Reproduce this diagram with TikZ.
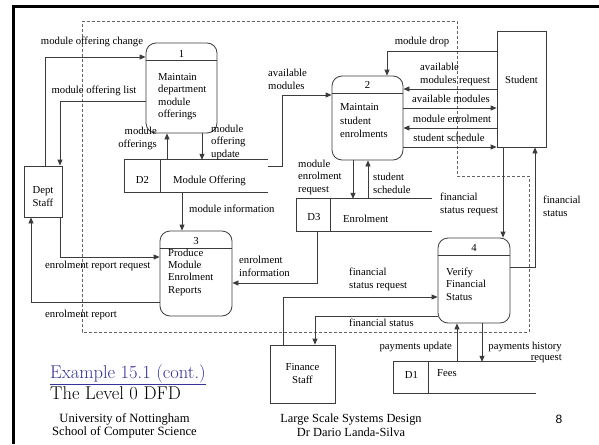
\documentclass[tikz,border=0pt]{standalone}
\usepackage{fontspec}
\setmainfont{Liberation Serif}
\newfontfamily\lmfont{Latin Modern Roman}
\newfontfamily\sansfont{Liberation Sans}
\usetikzlibrary{arrows.meta}
\definecolor{ln}{HTML}{3C3C3C}
\definecolor{ttl}{HTML}{333399}
\begin{document}
\begin{tikzpicture}[x=1pt,y=-1pt,
  lbl/.style={font=\fontsize{10.7}{12.5}\selectfont, inner sep=0pt, text=black},
  lblL/.style={lbl, align=left, anchor=base west},
  lblR/.style={lbl, align=right, anchor=base east},
  lblC/.style={lbl, align=center, anchor=base},
  proc/.style={draw=ln, line width=0.8pt, rounded corners=10pt, inner sep=0pt},
  ext/.style={draw=ln, line width=0.8pt, inner sep=0pt},
  store/.style={draw=none, inner sep=0pt},
  edge/.style={draw=ln, line width=0.8pt},
  flow/.style={draw=ln, line width=0.8pt, -{Triangle[length=6pt,width=5pt]}},
  bound/.style={draw=ln!80, line width=0.8pt, dash pattern=on 3pt off 2pt}]
\useasboundingbox (0,0) rectangle (599,444);
\fill[white] (0,0) rectangle (599,444);
% frame
\draw[line width=3pt, black] (13.5,444) -- (13.5,6.5) -- (599,6.5);
% system boundary
\draw[bound] (82,21) -- (457,21) -- (457,176) -- (529,176) -- (529,332) -- (82,332) -- cycle;

% processes
\node[proc, minimum width=71pt, minimum height=90pt] (p1) at (181.5,88) {};
\node[proc, minimum width=71pt, minimum height=84pt] (p2) at (367.5,118) {};
\node[proc, minimum width=72pt, minimum height=85pt] (p3) at (196,273.5) {};
\node[proc, minimum width=72pt, minimum height=85pt] (p4) at (474,280.5) {};
\foreach \p in {p1,p2,p3,p4}
  \draw[edge] ([yshift=-18pt]\p.north west) -- ([yshift=-18pt]\p.north east);
\node[lblC] (n1) at (181.5,57) {1};
\node[lblL] (t1) at (158,117.5) {Maintain\\department\\module\\offerings};
\node[lblC] (n2) at (367.5,88) {2};
\node[lblL, font=\fontsize{10.7}{13.3}\selectfont] (t2) at (340,137.5) {Maintain\\student\\enrolments};
\node[lblC] (n3) at (196,244) {3};
\node[lblL, font=\fontsize{10.7}{12.3}\selectfont] (t3) at (168,293) {Produce\\Module\\Enrolment\\Reports};
\node[lblC] (n4) at (474,251) {4};
\node[lblL] (t4) at (446,300) {Verify\\Financial\\Status};

% external entities
\node[ext, minimum width=38pt, minimum height=51pt] (dept) at (43,191.5) {};
\node[lblC] (tdept) at (43,206) {Dept\\Staff};
\node[ext, minimum width=49pt, minimum height=116pt] (student) at (521.5,89) {};
\node[lblC] (tstudent) at (521.5,83) {Student};
\node[ext, minimum width=65pt, minimum height=58pt] (fin) at (302.5,374) {};
\node[lblC] (tfin) at (302.5,383) {Finance\\Staff};

% data stores
\node[store, minimum width=143pt, minimum height=32pt] (d2) at (196.5,176) {};
\draw[edge] (d2.north east) -- (d2.north west) -- (d2.south west) -- (d2.south east);
\draw[edge] ([xshift=36pt]d2.north west) -- ([xshift=36pt]d2.south west);
\node[lblC] (td2a) at (142.5,183) {D2};
\node[lblL] (td2b) at (173,183) {Module Offering};

\node[store, minimum width=135pt, minimum height=32pt] (d3) at (364.5,215) {};
\draw[edge] (d3.north east) -- (d3.north west) -- (d3.south west) -- (d3.south east);
\draw[edge] ([xshift=34pt]d3.north west) -- ([xshift=34pt]d3.south west);
\node[lblC] (td3a) at (314,220) {D3};
\node[lblL] (td3b) at (343,222) {Enrolment};

\node[store, minimum width=142pt, minimum height=31pt] (d1) at (465,377.5) {};
\draw[edge] (d1.north east) -- (d1.north west) -- (d1.south west) -- (d1.south east);
\draw[edge] ([xshift=35pt]d1.north west) -- ([xshift=35pt]d1.south west);
\node[lblC] (td1a) at (411.5,378) {D1};
\node[lblL] (td1b) at (437,376) {Fees};

% flows
\draw[flow] (45,0 |- dept.north) |- (p1.west |- 0,57);
\node[lblC] (l1) at (92,45) {module offering change};
\draw[flow] (p1.west |- 0,101) -| (60,0 |- dept.north);
\node[lblC] (l2) at (94,93) {module offering list};
\draw[flow] (167,0 |- d2.north) -- (167,0 |- p1.south);
\node[lblR] (l3) at (157,147) {module\\offerings};
\draw[flow] (202,0 |- p1.south) -- (202,0 |- d2.north);
\node[lblL] (l4) at (211,157) {module\\offering\\update};
\draw[flow] (d2.north east |- 0,166) -| (282,95) -- (p2.west |- 0,95);
\node[lblL] (l5) at (268,89) {available\\modules};
\draw[flow] (student.west |- 0,51) -| (387,0 |- p2.north);
\node[lblC] (l6) at (422,45) {module drop};
\draw[flow] (student.west |- 0,89) -- (p2.east |- 0,89);
\node[lblL] (l7) at (420,83) {available\\modules request};
\draw[flow] (p2.east |- 0,108) -- (student.west |- 0,108);
\node[lblC] (l8) at (451,102) {available modules};
\draw[flow] (student.west |- 0,128) -- (p2.east |- 0,128);
\node[lblC] (l9) at (452,122) {module enrolment};
\draw[flow] (p2.east |- 0,147) -- (student.west |- 0,147);
\node[lblC] (l10) at (449,141) {student schedule};
\draw[flow] (353,0 |- p2.south) -- (353,0 |- d3.north);
\node[lblL] (l11) at (298,192) {module\\enrolment\\request};
\draw[flow] (368,0 |- d3.north) -- (368,0 |- p2.south);
\node[lblL] (l12) at (373,193) {student\\schedule};
\draw[flow] (182,0 |- d2.south) -- (182,0 |- p3.north);
\node[lblL] (l13) at (189,212) {module information};
\draw[flow] (60,0 |- dept.south) |- (p3.west |- 0,257);
\node[lblL] (l14) at (45,268) {enrolment report request};
\draw[flow] (p3.west |- 0,302) -| (31,0 |- dept.south);
\node[lblL] (l15) at (45,317) {enrolment report};
\draw[flow] (317,0 |- d3.south) |- (p3.east |- 0,283);
\node[lblL] (l16) at (239,276) {enrolment\\information};
\draw[flow] (503,0 |- student.south) -- (503,0 |- p4.north);
\node[lblL] (l17) at (440,213) {financial\\status request};
\draw[flow] (p4.east |- 0,267) -| (535,0 |- student.south);
\node[lblL] (l18) at (543,216) {financial\\status};
\draw[flow] (283,0 |- fin.north) |- (p4.west |- 0,297);
\node[lblL] (l19) at (349,288) {financial\\status request};
\draw[flow] (p4.west |- 0,316) -| (315,0 |- fin.north);
\node[lblL] (l20) at (349,326) {financial status};
\draw[flow] (457,0 |- d1.north) -- (457,0 |- p4.south);
\node[lblR] (l21) at (452,349) {payments update};
\draw[flow] (482,0 |- p4.south) -- (482,0 |- d1.north);
\node[lblR, font=\fontsize{10.7}{11.5}\selectfont] (l22) at (562,360.5) {payments history\\request};

% titles and footer
\node[inner sep=0pt, anchor=base west, text=ttl, font=\lmfont\fontsize{18.5}{20}\selectfont] (ex) at (50,378) {\underline{Example 15.1 (cont.)}};
\node[inner sep=0pt, anchor=base west, font=\lmfont\fontsize{18.5}{20}\selectfont] (lvl) at (50,399) {The Level 0 DFD};
\node[inner sep=0pt, anchor=base, align=center, font=\fontsize{12.6}{13.5}\selectfont] (uni) at (124.5,435.5) {University of Nottingham\\School of Computer Science};
\node[inner sep=0pt, anchor=base, align=center, font=\fontsize{12.4}{14}\selectfont] (lss) at (351,436) {Large Scale Systems Design\\Dr Dario Landa-Silva};
\node[inner sep=0pt, anchor=base, font=\sansfont\fontsize{12}{13}\selectfont] (pg) at (559,423) {8};
\end{tikzpicture}
\end{document}
